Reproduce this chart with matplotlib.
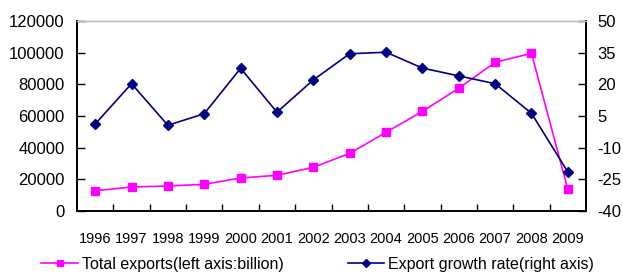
import matplotlib
matplotlib.use("Agg")
import matplotlib.pyplot as plt
from matplotlib.lines import Line2D

plt.rcParams['font.family'] = ['Liberation Sans', 'DejaVu Sans']
plt.rcParams['axes.unicode_minus'] = False

years = ['1996', '1997', '1998', '1999', '2000', '2001', '2002',
         '2003', '2004', '2005', '2006', '2007', '2008', '2009']
total_exports = [12800, 15150, 15800, 16850, 20850, 22550, 27600,
                 36400, 49700, 62950, 77500, 93900, 99600, 13700]
growth_rate = [1.2, 20.3, 0.6, 6.1, 27.6, 6.8, 22.1,
               34.5, 35.2, 27.7, 24.0, 20.3, 6.3, -21.5]

pink = '#FF00FF'
navy = '#000080'

fig = plt.figure(figsize=(6.23, 2.75), dpi=100)
ax = fig.add_axes([77 / 623, 1 - 211 / 275, (586 - 77) / 623, (211 - 21) / 275])
ax2 = ax.twinx()

x = list(range(len(years)))
ax.plot(x, total_exports, color=pink, marker='s', markersize=6, lw=1.2)
ax2.plot(x, growth_rate, color=navy, marker='D', markersize=5, lw=1.2)

ax.set_xlim(-0.5, len(years) - 0.5)
ax.set_ylim(0, 120000)
ax.set_yticks(range(0, 120001, 20000))
ax2.set_ylim(-40, 50)
ax2.set_yticks(range(-40, 51, 15))

# category ticks sit between the years, labels at the centres
ax.set_xticks([i + 0.5 for i in x[:-1]], minor=False)
ax.set_xticklabels([])
ax.set_xticks(x, minor=True)
ax.set_xticklabels(years, minor=True, fontsize=10.5)
ax.tick_params(axis='x', which='major', direction='in', length=5, width=1)
ax.tick_params(axis='x', which='minor', length=0, pad=15)

ax.tick_params(axis='y', direction='in', length=6, width=1, labelsize=12, pad=9)
ax2.tick_params(axis='y', direction='in', length=6, width=1, labelsize=12, pad=8)

for a in (ax, ax2):
    for s in ('left', 'right', 'bottom'):
        a.spines[s].set_color('black')
        a.spines[s].set_linewidth(1.2)
    a.spines['top'].set_color('#c0c0c0')
    a.spines['top'].set_linewidth(1)

handles = [Line2D([], [], color=pink, marker='s', markersize=5, lw=1.2),
           Line2D([], [], color=navy, marker='D', markersize=4.5, lw=1.2)]
fig.legend(handles, ['Total exports(left axis:billion)', 'Export growth rate(right axis)'],
           loc='center', bbox_to_anchor=(0.510, 1 - 264 / 275), ncol=2, frameon=False,
           fontsize=11.5, handlelength=2.3, handletextpad=0.25, columnspacing=4.0,
           borderaxespad=0, borderpad=0)

fig.savefig('out.png', dpi=100)
